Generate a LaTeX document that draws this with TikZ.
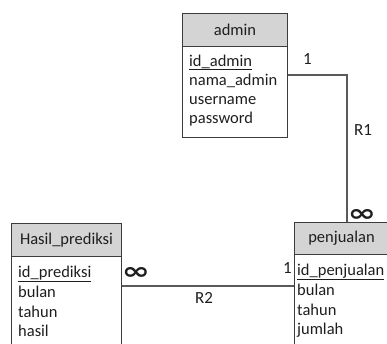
\documentclass[tikz,border=0pt]{standalone}
\usepackage{fontspec}
\setmainfont{Carlito}
\newfontfamily\djv{DejaVu Sans}
\definecolor{boxc}{HTML}{3C3C3C}
\definecolor{hdrc}{HTML}{D4D4D4}
\definecolor{txt}{HTML}{1E1E1E}
\definecolor{linec}{HTML}{5A5A5A}
\newcommand{\infsym}{\scalebox{1.35}[0.95]{\djv\bfseries ∞}}
\begin{document}
\begin{tikzpicture}[x=1pt,y=-1pt,
  tbl/.style={draw=boxc, line width=1pt, anchor=north west, inner sep=0pt},
  hdr/.style={tbl, fill=hdrc, font=\fontsize{16.5}{19}\selectfont, text=txt},
  attr/.style={anchor=base west, inner sep=0pt, font=\fontsize{16.5}{19}\selectfont, text=txt},
  lbl/.style={anchor=base west, inner sep=0pt, font=\fontsize{17}{19}\selectfont, text=txt},
  inf/.style={inner sep=0pt, font=\fontsize{25}{27}\selectfont, text=txt},
  conn/.style={draw=linec, line width=1.3pt}]
\useasboundingbox (0,0) rectangle (387,343);
\clip (0,0) rectangle (387,343);
% admin
\node[hdr, minimum width=105pt, minimum height=33pt] (adminh) at (182,13) {admin};
\node[tbl, minimum width=105pt, minimum height=91pt] (adminb) at (182,46) {};
\node[attr] (a1) at (189,66) {\underline{id\_admin}};
\node[attr] (a2) at (189,85) {nama\_admin};
\node[attr] (a3) at (189,104) {username};
\node[attr] (a4) at (189,123) {password};
% Hasil_prediksi
\node[hdr, minimum width=110pt, minimum height=33pt] (hasilh) at (11,223) {Hasil\_prediksi};
\node[tbl, minimum width=110pt, minimum height=110pt] (hasilb) at (11,256) {};
\node[attr] (h1) at (18,277) {\underline{id\_prediksi}};
\node[attr] (h2) at (18,297) {bulan};
\node[attr] (h3) at (18,317) {tahun};
\node[attr] (h4) at (18,336) {hasil};
% penjualan
\node[hdr, minimum width=94pt, minimum height=32pt] (penjh) at (294,222) {penjualan};
\node[tbl, minimum width=94pt, minimum height=110pt] (penjb) at (294,254) {};
\node[attr] (p1) at (297,275) {\underline{id\_penjualan}};
\node[attr] (p2) at (297,295) {bulan};
\node[attr] (p3) at (297,315) {tahun};
\node[attr] (p4) at (297,334) {jumlah};
% connectors
\coordinate (r1s) at (adminb.east |- 0,75);
\coordinate (r1e) at (penjh.north -| 347,0);
\draw[conn] (r1s) -| (r1e);
\coordinate (r2s) at (hasilb.east |- 0,286);
\coordinate (r2e) at (penjb.west |- 0,286);
\draw[conn] (r2s) -- (r2e);
% labels
\node[lbl] (l1a) at (303,64) {1};
\node[lbl] (lr1) at (354,135) {R1};
\node[inf] (i1) at (362,215.5) {\infsym};
\node[inf] (i2) at (136,273) {\infsym};
\node[lbl] (l1b) at (283,273) {1};
\node[lbl] (lr2) at (195,303) {R2};
\end{tikzpicture}
\end{document}
